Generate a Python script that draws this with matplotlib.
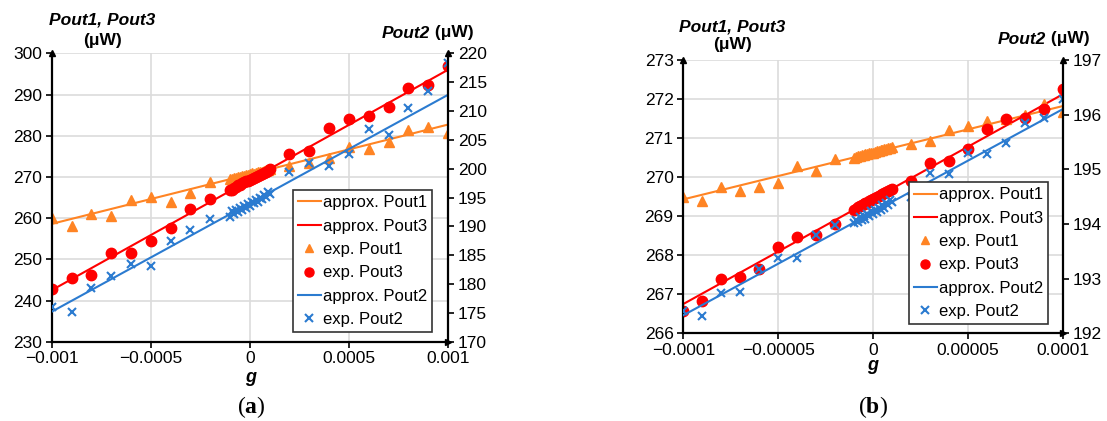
import matplotlib
matplotlib.use("Agg")
import matplotlib.pyplot as plt
from matplotlib.lines import Line2D

plt.rcParams['font.family'] = ['Liberation Sans', 'DejaVu Sans']
plt.rcParams['mathtext.fontset'] = 'custom'
plt.rcParams['mathtext.bf'] = 'Liberation Serif:bold'
plt.rcParams['mathtext.rm'] = 'Liberation Serif'

ORANGE = '#ff8424'
RED = '#ff0000'
BLUE = '#2b7bd0'
GRID = '#dcdcdc'

# ---- panel (a) data ----
g_a = [-0.001, -0.0009, -0.0008, -0.0007, -0.0006, -0.0005, -0.0004, -0.0003, -0.0002,
       -0.0001, -0.00009, -0.00008, -0.00007, -0.00006, -0.00005, -0.00004, -0.00003, -0.00002, -0.00001,
       0.0, 0.00001, 0.00002, 0.00003, 0.00004, 0.00005, 0.00006, 0.00007, 0.00008, 0.00009, 0.0001,
       0.0002, 0.0003, 0.0004, 0.0005, 0.0006, 0.0007, 0.0008, 0.0009, 0.001]
pout1_a = [260.1, 258.2, 260.9, 260.5, 264.4, 265.2, 264.0, 266.0, 268.8,
           269.6, 269.4, 269.8, 269.7, 270.0, 269.9, 270.2, 270.1, 270.4, 270.5,
           270.6, 270.9, 270.8, 271.0, 271.1, 271.3, 271.2, 271.5, 271.6, 271.7, 271.9,
           272.6, 273.4, 274.7, 277.3, 276.7, 278.5, 281.5, 282.2, 280.7]
pout3_a = [242.7, 245.4, 246.2, 251.5, 251.6, 254.4, 257.5, 262.2, 264.6,
           266.8, 266.9, 267.4, 267.6, 268.0, 268.1, 268.5, 268.7, 269.0, 269.1,
           269.3, 269.6, 269.7, 270.0, 270.2, 270.4, 270.7, 270.9, 271.2, 271.5, 271.8,
           275.6, 276.4, 281.8, 284.1, 284.8, 287.0, 291.6, 292.4, 297.0]
pout2_a = [176.1, 175.2, 179.3, 181.4, 183.4, 183.1, 187.4, 189.4, 191.2,
           191.6, 192.6, 192.2, 192.9, 192.5, 193.1, 192.8, 193.5, 193.2, 193.9,
           193.6, 194.3, 194.0, 194.6, 194.3, 195.0, 194.7, 195.4, 195.1, 195.9, 195.6,
           199.4, 200.9, 200.5, 202.5, 206.9, 205.8, 210.6, 213.5, 218.3]
gfit_a = [-0.001, 0.001]
fit1_a = [258.6, 282.7]
fit3_a = [242.5, 296.0]
fit2_a = [175.2, 212.8]
xticks_a = [-0.001, -0.0005, 0, 0.0005, 0.001]
xlabels_a = ['\u22120.001', '\u22120.0005', '0', '0.0005', '0.001']

# ---- panel (b) data ----
g_b = [-0.0001, -0.00009, -0.00008, -0.00007, -0.00006, -0.00005, -0.00004, -0.00003, -0.00002,
       -0.00001, -0.000009, -0.000008, -0.000007, -0.000006, -0.000005, -0.000004, -0.000003, -0.000002, -0.000001,
       0.0, 0.000001, 0.000002, 0.000003, 0.000004, 0.000005, 0.000006, 0.000007, 0.000008, 0.000009, 0.00001,
       0.00002, 0.00003, 0.00004, 0.00005, 0.00006, 0.00007, 0.00008, 0.00009, 0.0001]
pout1_b = [269.50, 269.40, 269.75, 269.65, 269.75, 269.86, 270.29, 270.16, 270.46,
           270.50, 270.52, 270.53, 270.55, 270.56, 270.57, 270.59, 270.60, 270.61, 270.62,
           270.63, 270.65, 270.66, 270.67, 270.69, 270.70, 270.71, 270.72, 270.74, 270.75, 270.76,
           270.85, 270.93, 271.21, 271.31, 271.44, 271.48, 271.59, 271.87, 271.66]
pout3_b = [266.57, 266.84, 267.39, 267.45, 267.64, 268.22, 268.47, 268.52, 268.79,
           269.17, 269.19, 269.23, 269.25, 269.28, 269.30, 269.33, 269.35, 269.38, 269.41,
           269.43, 269.46, 269.49, 269.51, 269.54, 269.57, 269.59, 269.62, 269.65, 269.67, 269.70,
           269.90, 270.37, 270.42, 270.71, 271.24, 271.49, 271.52, 271.74, 272.27]
pout2_b = [192.40, 192.32, 192.74, 192.76, 193.18, 193.38, 193.37, 193.80, 193.98,
           194.02, 194.08, 194.04, 194.12, 194.07, 194.15, 194.10, 194.19, 194.14, 194.23,
           194.19, 194.26, 194.22, 194.30, 194.26, 194.34, 194.30, 194.38, 194.34, 194.43, 194.40,
           194.50, 194.93, 194.91, 195.30, 195.28, 195.49, 195.85, 195.93, 196.29]
gfit_b = [-0.0001, 0.0001]
fit1_b = [269.43, 271.82]
fit3_b = [266.75, 272.12]
fit2_b = [192.33, 196.10]
xticks_b = [-0.0001, -0.00005, 0, 0.00005, 0.0001]
xlabels_b = ['\u22120.0001', '\u22120.00005', '0', '0.00005', '0.0001']

W, H = 1107, 421
fig = plt.figure(figsize=(W / 100, H / 100), dpi=100)


def px_rect(x0, x1, y0, y1):
    return [x0 / W, 1 - y1 / H, (x1 - x0) / W, (y1 - y0) / H]


def draw_panel(rect, g, p1, p3, p2, gfit, f1, f3, f2, xticks, xlabels,
               ylim, yticks, y2lim, y2ticks, leg_anchor):
    ax = fig.add_axes(rect)
    ax2 = ax.twinx()
    ax.set_xlim(xticks[0], xticks[-1])
    ax.set_ylim(*ylim)
    ax2.set_ylim(*y2lim)
    ax.set_xticks(xticks)
    ax.set_xticklabels(xlabels)
    ax.set_yticks(yticks)
    ax2.set_yticks(y2ticks)
    ax.grid(True, color=GRID, linewidth=1.2)
    ax.set_axisbelow(True)
    for a in (ax, ax2):
        a.spines['top'].set_visible(False)
        a.tick_params(labelsize=12.5, length=4, width=1.2, pad=3, colors='black')
    ax.spines['right'].set_visible(False)
    ax2.spines['left'].set_visible(False)
    ax2.spines['bottom'].set_visible(False)
    ax.spines['left'].set_linewidth(1.6)
    ax.spines['bottom'].set_linewidth(1.6)
    ax2.spines['right'].set_linewidth(1.6)

    ax.plot(gfit, f1, color=ORANGE, lw=1.5)
    ax.plot(gfit, f3, color=RED, lw=1.5)
    ax.plot(g, p1, '^', color=ORANGE, ms=7, ls='none')
    ax.plot(g, p3, 'o', color=RED, ms=7.5, ls='none')
    ax2.plot(gfit, f2, color=BLUE, lw=1.5)
    ax2.plot(g, p2, 'x', color=BLUE, ms=6, mew=1.5, ls='none')

    # arrow heads on axis lines
    ax.plot([0], [1], marker='^', color='black', ms=5, transform=ax.transAxes, clip_on=False)
    ax.plot([1], [0], marker='>', color='black', ms=5, transform=ax.transAxes, clip_on=False)
    ax2.plot([1], [1], marker='^', color='black', ms=5, transform=ax2.transAxes, clip_on=False)

    handles = [Line2D([], [], color=ORANGE, lw=1.5),
               Line2D([], [], color=RED, lw=1.5),
               Line2D([], [], marker='^', color=ORANGE, ls='none', ms=6),
               Line2D([], [], marker='o', color=RED, ls='none', ms=6.5),
               Line2D([], [], color=BLUE, lw=1.5),
               Line2D([], [], marker='x', color=BLUE, ls='none', ms=5.5, mew=1.5)]
    labels = ['approx. Pout1', 'approx. Pout3', 'exp. Pout1', 'exp. Pout3',
              'approx. Pout2', 'exp. Pout2']
    leg = ax2.legend(handles, labels, loc='lower right',
                     bbox_to_anchor=(leg_anchor[0] / W, 1 - leg_anchor[1] / H),
                     bbox_transform=fig.transFigure, fontsize=12, frameon=True,
                     fancybox=False, edgecolor='#333333', framealpha=1,
                     borderpad=0.3, labelspacing=0.5, handlelength=1.4,
                     handletextpad=0.1, borderaxespad=0)
    leg.get_frame().set_linewidth(1.2)
    return ax, ax2


draw_panel(px_rect(51.7, 448, 53.3, 341.7), g_a, pout1_a, pout3_a, pout2_a,
           gfit_a, fit1_a, fit3_a, fit2_a, xticks_a, xlabels_a,
           (230, 300), [230, 240, 250, 260, 270, 280, 290, 300],
           (170, 220), [170, 175, 180, 185, 190, 195, 200, 205, 210, 215, 220],
           (432, 332))
draw_panel(px_rect(683.3, 1062.7, 60, 333.3), g_b, pout1_b, pout3_b, pout2_b,
           gfit_b, fit1_b, fit3_b, fit2_b, xticks_b, xlabels_b,
           (266, 273), [266, 267, 268, 269, 270, 271, 272, 273],
           (192, 197), [192, 193, 194, 195, 196, 197],
           (1048, 324))


def ftext(x, y, s, **kw):
    fig.text(x / W, 1 - y / H, s, ha='center', va='center', **kw)


for (cx, y1, y2), (rx, ry), (gx, gy), lab in [((102, 20, 40), (430, 33), (251, 377), 'a'),
                                               ((732, 27, 45), (1046, 39), (873, 365), 'b')]:
    ftext(cx, y1, 'Pout1, Pout3', fontsize=12.5, fontweight='bold', fontstyle='italic')
    ftext(cx, y2, '(\u03bcW)', fontsize=12.5, fontweight='bold')
    fig.text(rx / W, 1 - ry / H, 'Pout2', ha='right', va='center', fontsize=12.5,
             fontweight='bold', fontstyle='italic')
    fig.text(rx / W, 1 - ry / H, ' (\u03bcW)', ha='left', va='center', fontsize=12.5,
             fontweight='bold')
    ftext(gx, gy, 'g', fontsize=13, fontweight='bold', fontstyle='italic')
    ftext(gx, 407, '($\\mathbf{' + lab + '}$)', fontsize=17, family='Liberation Serif')

fig.savefig('out.png', dpi=100)
